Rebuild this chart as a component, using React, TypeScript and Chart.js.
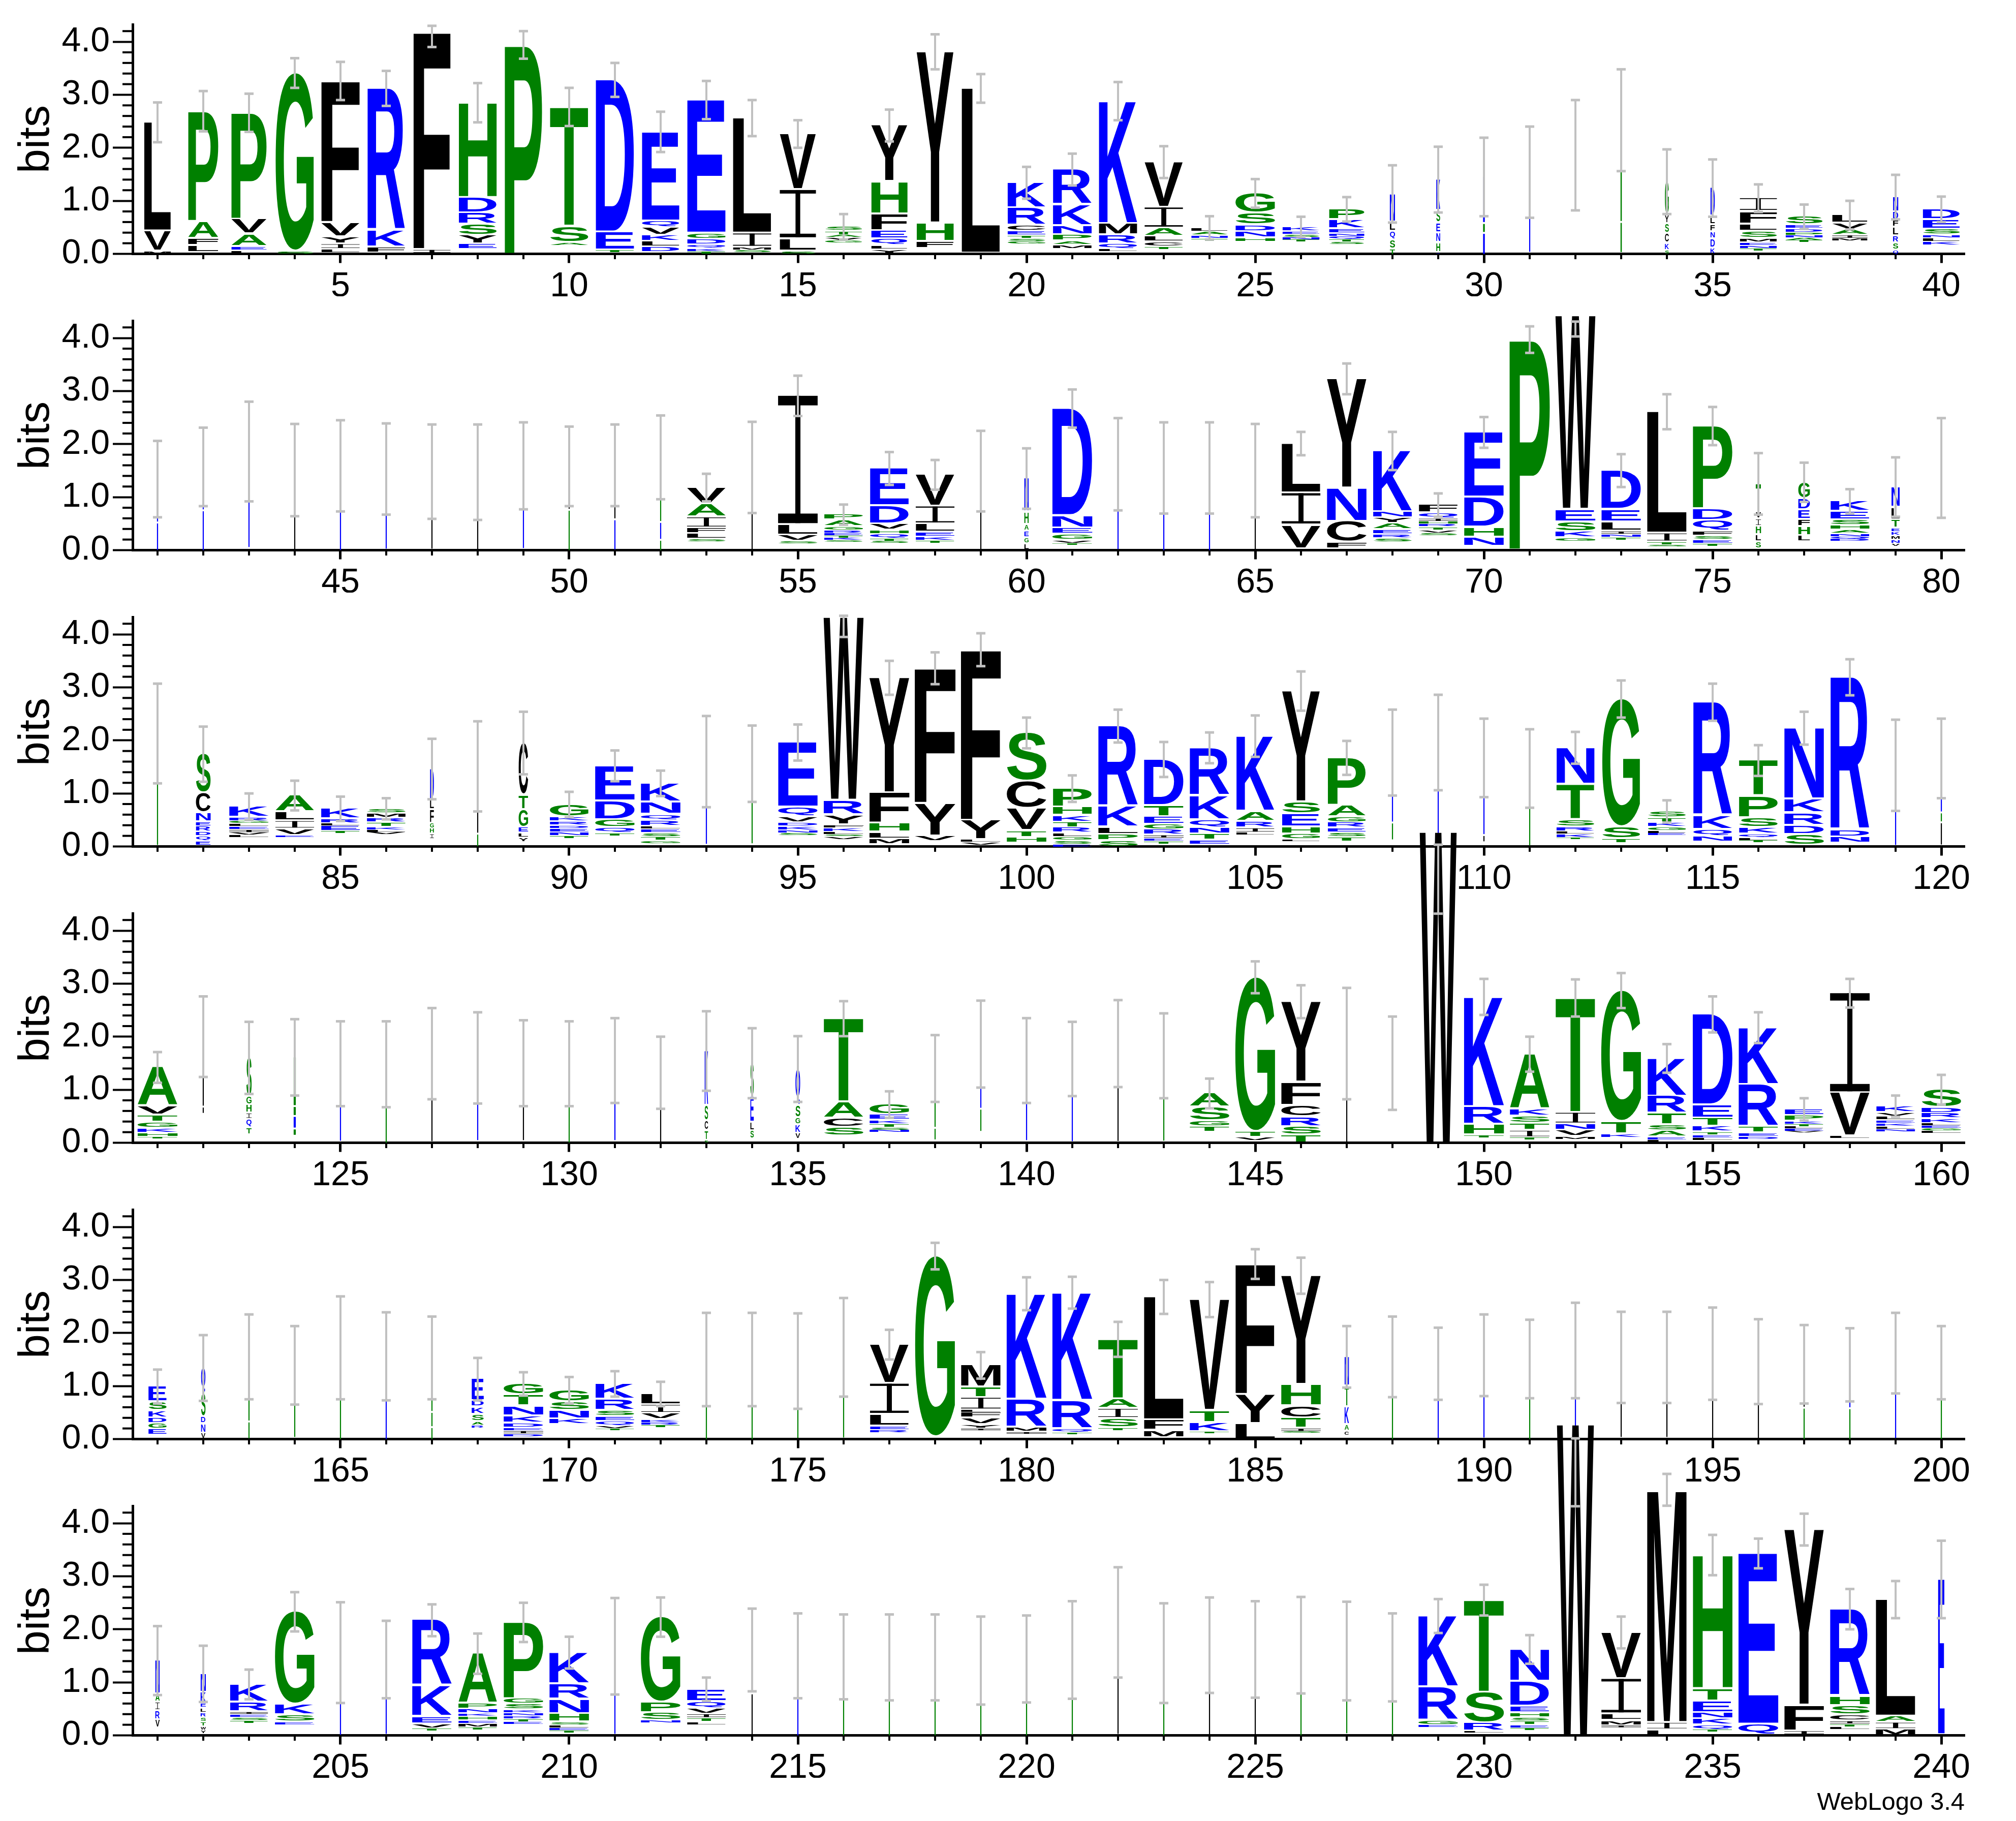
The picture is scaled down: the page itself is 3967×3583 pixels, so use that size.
import React, { useEffect, useRef } from "react";
import { Chart, registerables } from "chart.js";
Chart.register(...registerables);

// ---------------- data ----------------
// stack height (bits) per position 1..240
const TOPS: number[] = [
  2.48, 2.69, 2.66, 3.41, 3.26, 3.12, 4.19, 2.85, 3.94, 2.77,
  3.28, 2.3, 2.9, 2.56, 2.26, 0.51, 2.42, 3.81, 3.12, 1.34,
  1.59, 2.88, 1.73, 0.49, 1.14, 0.51, 0.84, 1.13, 1.4, 1.45,
  1.54, 1.86, 2.52, 1.36, 1.24, 1.05, 0.7, 0.73, 1.07, 0.84,
  1.34, 1.57, 1.86, 1.51, 1.59, 1.53, 1.48, 1.47, 1.59, 1.58,
  1.6, 1.75, 1.18, 1.56, 2.91, 0.67, 1.54, 1.42, 1.49, 1.35,
  2.67, 1.62, 1.55, 1.55, 1.5, 2.01, 3.23, 1.87, 0.85, 2.22,
  3.97, 4.42, 1.5, 2.61, 2.34, 1.25, 1.28, 0.92, 1.19, 1.55,
  2.13, 1.74, 0.75, 0.96, 0.71, 0.71, 1.46, 1.51, 1.95, 0.79,
  1.52, 1.19, 1.6, 1.56, 1.96, 4.32, 3.18, 3.36, 3.71, 2.14,
  1.09, 2.27, 1.64, 1.86, 2.08, 2.93, 1.67, 1.77, 1.96, 1.67,
  1.47, 1.86, 2.78, 0.66, 2.72, 1.62, 2.23, 3.19, 1.53, 1.66,
  1.42, 2.0, 1.6, 1.61, 1.49, 1.48, 1.68, 1.6, 1.5, 1.49,
  1.55, 1.32, 1.73, 1.5, 1.39, 2.34, 0.72, 1.4, 1.86, 1.55,
  1.58, 1.87, 1.64, 0.93, 3.12, 2.66, 1.87, 1.5, 5.86, 2.75,
  1.67, 2.73, 2.87, 1.59, 2.42, 2.17, 0.63, 2.82, 0.69, 1.0,
  0.99, 1.34, 1.55, 1.39, 1.72, 1.56, 1.53, 1.13, 1.04, 0.92,
  1.04, 0.85, 1.5, 1.5, 1.47, 1.73, 1.78, 3.45, 1.39, 2.74,
  2.76, 1.88, 2.68, 2.63, 3.3, 3.08, 1.55, 1.55, 1.42, 1.58,
  1.51, 1.67, 1.54, 1.54, 1.61, 1.46, 1.41, 1.4, 1.62, 1.44,
  1.41, 1.16, 0.96, 2.33, 1.56, 1.43, 2.17, 1.54, 2.13, 1.56,
  1.68, 2.23, 0.87, 1.61, 1.5, 1.48, 1.47, 1.47, 1.41, 1.44,
  1.61, 2.13, 1.55, 1.7, 1.62, 1.7, 1.59, 1.47, 2.25, 2.55,
  1.62, 5.86, 1.94, 4.63, 3.4, 3.43, 3.88, 2.38, 2.56, 2.94,
];

// error bar half-length (bits)
const ERRS: number[] = [
  0.375, 0.38, 0.36, 0.28, 0.36, 0.33, 0.2, 0.37, 0.26, 0.36,
  0.32, 0.38, 0.36, 0.34, 0.26, 0.24, 0.3, 0.33, 0.27, 0.3,
  0.3, 0.36, 0.3, 0.22, 0.27, 0.19, 0.23, 0.54, 0.62, 0.74,
  0.86, 1.04, 0.96, 0.61, 0.54, 0.26, 0.23, 0.27, 0.42, 0.24,
  0.72, 0.74, 0.94, 0.87, 0.86, 0.86, 0.89, 0.9, 0.82, 0.75,
  0.77, 0.79, 0.26, 0.86, 0.38, 0.19, 0.31, 0.28, 0.76, 0.57,
  0.36, 0.87, 0.86, 0.86, 0.88, 0.22, 0.29, 0.36, 0.22, 0.29,
  0.25, 0.14, 0.31, 0.33, 0.36, 0.58, 0.37, 0.23, 0.56, 0.94,
  0.94, 0.52, 0.25, 0.28, 0.23, 0.2, 0.57, 0.85, 0.59, 0.24,
  0.29, 0.24, 0.86, 0.72, 0.34, 0.2, 0.32, 0.3, 0.31, 0.29,
  0.25, 0.31, 0.33, 0.29, 0.39, 0.37, 0.32, 0.81, 0.9, 0.74,
  0.74, 0.3, 0.35, 0.21, 0.35, 0.29, 0.31, 0.34, 0.86, 0.75,
  0.29, 0.76, 0.68, 0.72, 0.8, 0.81, 0.86, 0.86, 0.81, 0.8,
  0.8, 0.68, 0.75, 0.66, 0.62, 0.33, 0.25, 0.63, 0.82, 0.8,
  0.7, 0.82, 0.8, 0.28, 0.3, 0.31, 1.05, 0.88, 0.65, 0.34,
  0.33, 0.35, 0.33, 0.27, 0.34, 0.29, 0.21, 0.27, 0.2, 0.28,
  0.32, 0.62, 0.8, 0.74, 0.97, 0.83, 0.78, 0.4, 0.22, 0.25,
  0.24, 0.23, 0.88, 0.88, 0.9, 0.93, 0.28, 0.25, 0.25, 0.31,
  0.3, 0.33, 0.32, 0.33, 0.28, 0.34, 0.58, 0.76, 0.68, 0.77,
  0.74, 0.9, 0.86, 0.86, 0.87, 0.8, 0.74, 0.69, 0.76, 0.69,
  0.65, 0.53, 0.28, 0.37, 0.95, 0.73, 0.3, 0.38, 0.37, 0.3,
  0.91, 0.37, 0.22, 0.78, 0.8, 0.8, 0.81, 0.81, 0.83, 0.82,
  0.92, 1.04, 0.94, 0.9, 0.91, 0.91, 0.93, 0.83, 0.32, 0.29,
  0.27, 0.64, 0.3, 0.3, 0.38, 0.28, 0.3, 0.38, 0.35, 0.73,
];

// error bar centre where it differs from the stack height
const ERR_MID: Record<number, number> = { 7: 4.1, 72: 4.17, 96: 4.15, 149: 4.97, 232: 4.96 };

// relative stack width (fraction of non-gap symbols); 0 = not visible
const WIDTHS: number[] = [
  0.62, 0.7, 0.82, 0.89, 0.89, 0.87, 0.86, 0.88, 0.87, 0.89,
  0.89, 0.87, 0.89, 0.89, 0.84, 0.86, 0.84, 0.86, 0.89, 0.88,
  0.9, 0.89, 0.89, 0.85, 0.92, 0.86, 0.82, 0.12, 0.09, 0.04,
  0.02, 0, 0.03, 0.09, 0.1, 0.86, 0.86, 0.82, 0.12, 0.86,
  0.015, 0.01, 0.012, 0.008, 0.008, 0.008, 0.006, 0.006, 0.008, 0.008,
  0.01, 0.012, 0.9, 0.008, 0.92, 0.9, 0.9, 0.9, 0.01, 0.1,
  0.93, 0.008, 0.006, 0.006, 0.006, 0.9, 0.92, 0.9, 0.9, 0.92,
  0.94, 0.93, 0.92, 0.92, 0.92, 0.12, 0.27, 0.9, 0.19, 0,
  0.008, 0.34, 0.92, 0.9, 0.9, 0.9, 0.09, 0.015, 0.22, 0.9,
  0.92, 0.92, 0.008, 0.008, 0.92, 0.93, 0.93, 0.95, 0.93, 0.92,
  0.9, 0.92, 0.92, 0.92, 0.88, 0.88, 0.88, 0.01, 0.008, 0.008,
  0.006, 0.88, 0.88, 0.88, 0.9, 0.9, 0.92, 0.9, 0.006, 0.01,
  0.93, 0.008, 0.12, 0.05, 0.006, 0.006, 0.004, 0.006, 0.004, 0.004,
  0.006, 0.005, 0.08, 0.08, 0.11, 0.92, 0.92, 0.008, 0.01, 0.006,
  0.01, 0.01, 0.006, 0.92, 0.93, 0.92, 0.004, 0, 0.86, 0.93,
  0.92, 0.92, 0.93, 0.9, 0.93, 0.92, 0.9, 0.92, 0.9, 0.92,
  0.42, 0.1, 0.01, 0.006, 0.006, 0.008, 0.015, 0.28, 0.92, 0.92,
  0.9, 0.9, 0.006, 0.004, 0.003, 0.006, 0.9, 0.93, 0.92, 0.93,
  0.93, 0.92, 0.92, 0.92, 0.92, 0.92, 0.1, 0.005, 0.006, 0.008,
  0.008, 0.004, 0.003, 0.003, 0.003, 0.003, 0.004, 0.005, 0.008, 0.006,
  0.1, 0.12, 0.88, 0.92, 0.006, 0.01, 0.92, 0.9, 0.92, 0.92,
  0.006, 0.92, 0.9, 0.004, 0.004, 0.004, 0.004, 0.004, 0.004, 0.004,
  0.004, 0.004, 0.004, 0.002, 0.003, 0.003, 0.003, 0.003, 0.92, 0.93,
  0.9, 0.86, 0.92, 0.92, 0.92, 0.93, 0.92, 0.92, 0.92, 0.15,
];

// letters of each stack, top to bottom, with their heights in bits
const LETTERS: string[] = [
  "L2.02 V.34 M.05", "P2.05 A.28 F.1 L.1", "P1.98 V.24 A.2 E.05 L.04", "G3.33 S.04", "F2.64 V.23 Y.1 I.07 L.05",
  "R2.65 K.28 F.07", "F4.08 I.05", "H1.76 D.25 R.18 S.17 Y.13 E.07", "P3.92", "T2.22 S.27 A.04",
  "D2.84 E.3 T.03", "E1.65 Q.09 V.11 K.08 L.07 D.07", "E2.48 G.08 D.07 Q.05 K.04 T.03", "L2.14 I.23 M.04 S.03", "V1.02 I.89 L.2 S.04 T.03",
  "S.06 T.05 A.03 V.04 G.03", "Y1.03 H.57 F.28 E.12 Q.09 L.05 Y.05", "Y3.2 H.31 F.1", "L3.08", "K.44 R.3 C.07 E.06 T.04 S.04 G.03",
  "R.63 K.36 N.14 P.08 A.05 M.05", "K2.28 M.18 R.13 Q.07 L.03", "V.82 I.36 A.12 L.07 C.06 T.04", "L.05 A.05 N.04 T.04", "G.34 S.19 D.09 N.08 H.05",
  "K.06 E.04 S.04 N.03 T.03", "P.16 K.14 E.06 N.04 Q.04 T.03 S.03", "N.5 L.14 Q.12 S.14 T.1 G.1", "K.55 S.2 E.15 N.15 H.15 Q.15", "N.85 G.15 R.45",
  "K1.5", "G1.8", "T1.9 S.55", "G.6 Y.12 S.15 C.15 K.1 S.2", "D.5 L.12 F.1 N.1 D.14 K.08 S.08",
  "I.22 F.2 L.1 S.1 M.05 E.04 N.04 T.03", "S.12 E.05 D.05 P.04 N.03 A.03 T.03", "L.12 V.09 A.07 I.04 M.03", "N.25 D.12 F.1 L.12 R.1 S.1 Q.08 L.06 V.06", "D.16 E.15 S.07 N.04 L.05 K.05",
  "D.8 K.5", "Q.8 K.75", "E1.8", "L1.5", "V.8 K.75",
  "K1.5", "L1.45", "I1.45", "K1.55", "L.8 S.75",
  "L1.0 N.55", "G1.2 D.3 S.22", "V.28 A.21 I.17 F.07 L.07 S.04", "L1.55", "I2.4 L.16 V.08 S.03",
  "P.07 A.09 G.05 R.04 E.03 T.03 K.03 S.02", "E.67 D.31 V.08 H.05 Q.06 T.03 S.03", "V.56 I.3 L.12 E.06 K.05 T.03", "K.5 L.95", "N.6 H.2 A.09 E.09 G.08 L.08",
  "D1.99 N.2 E.08 G.08 V.04 T.02", "K1.6", "Q1.55", "N1.55", "K.8 L.7",
  "L.9 I.57 V.41", "Y2.03 N.59 C.36 F.09", "K1.12 N.08 Y.07 A.08 E.06 R.05 S.05", "F.12 Q.07 I.04 H.03 R.04 T.04 V.04 S.03", "E1.19 D.53 H.15 N.14",
  "P3.94", "W3.62 E.2 S.15 K.08 G.05", "D.7 E.2 L.14 I.04 N.04 T.04", "L2.26 I.13 T.04 S.02", "P1.53 D.18 Q.17 F.06 S.05 E.05 T.04",
  "T.5 V.1 I.1 H.12 L.1 S.1", "G.28 D.17 E.15 F.1 H.13 L.08", "K.16 E.12 S.07 H.06 A.05 N.04 Q.03 D.03", "N.35 L.2 T.12 E.05 K.05 M.05 N.05 V.04", "G1.5",
  "G2.1", "S.7 C.34 N.13 E.06 R.07 D.06 Q.06 E.06", "K.17 R.05 G.03 L.04 E.04 I.04 V.03 L.03", "A.28 L.13 I.12 V.09 E.02", "K.16 R.06 L.03 E.07 T.03",
  "S.06 M.06 R.06 T.06 K.04 L.03 V.03", "D.55 L.15 F.22 G.07 H.07 I.07", "L1.25 S.22", "C.95 T.24 G.3 E.07 L.06 Y.06", "G.2 K.06 R.05 D.04 E.05 N.05 T.03",
  "E.63 D.32 G.11 Q.07 T.04", "K.32 N.2 Q.08 R.07 L.04 E.05 S.05 T.05 G.04", "K1.55", "S1.5", "E1.19 Q.15 V.07 D.05 K.05 N.04 S.03",
  "W3.42 R.24 Y.15 F.04 K.05 L.04 S.02 V.04", "Y2.14 F.54 H.13 L.09 M.07", "F2.52 Y.58 V.07", "F3.19 Y.33 L.03 V.04", "S.88 C.48 V.38 T.09 H.07",
  "P.32 H.12 K.09 T.07 R.07 L.05 G.05 S.05 E.05 T.04", "R1.48 K.36 L.1 P.08 S.09 T.04", "D.84 T.17 E.11 G.07 R.07 I.04 E.04 T.04", "R.87 K.42 Q.11 N.09 T.08 E.06", "K1.39 A.15 R.09 I.06 L.03",
  "Y2.06 S.19 E.21 H.1 G.07 L.02", "P.87 A.18 G.07 R.07 E.06 S.06 T.06", "N1.3 G.3", "K1.9", "L.1 N1.3 L.1",
  "G1.45", "N.66 T.63 S.1 R.06 L.03 K.05 T.02", "G2.38 S.19 T.06", "S.09 T.06 K.06 G.05 L.03 E.03", "R2.11 K.22 Q.1 N.07",
  "T.64 P.37 S.15 K.09 Q.05 L.03 T.03", "N1.31 K.22 R.2 D.14 S.16", "R2.85 D.1 N.08", "K1.5", "E1.0 G.15 L.4",
  "A.7 V.13 T.1 G.08 K.06 H.05 T.02", "Y1.3 L.1", "S.7 G.12 H.12 I.08 Q.12 T.1", "A.9 P.15 Q.2 T.1", "K1.45",
  "K.3 G1.15", "L1.65", "N1.55", "L1.45", "L.6 G.85",
  "K1.5", "I1.3", "K1.0 S.25 C.15 T.15 S.1", "S.6 E.45 L.12 S.12", "Q.65 S.2 G.1 K.12 V.08",
  "T1.54 A.27 C.14 S.12", "G.16 E.07 K.05 T.05 S.03 N.03", "S1.1 T.2", "K1.2 G.4", "K1.5",
  "N1.55", "K.8 L1.0", "S1.6", "A.23 S.22 G.08 T.07", "G2.88 T.07 V.05",
  "Y1.49 F.4 C.18 R.15 S.12 T.11", "L1.85", "L1.5", "W5.84", "K2.04 R.3 H.16 T.04",
  "A1.0 K.1 S.1 T.1 I.1 T.03", "T2.13 I.18 N.08 V.08 M.04", "G2.44 T.2 K.05", "K.68 R.29 T.18 S.08 A.08 E.04 L.03", "D1.68 E.21 T.12 K.07 T.04 E.04 L.03",
  "K1.04 R.76 T.08 E.05 D.04", "E.09 P.07 K.04 T.03 L.03 E.03 V.02", "I1.85 V.78 L.03", "K.09 V.05 L.05 E.04 K.04 L.04 N.03", "S.31 D.07 R.07 K.06 L.03 E.04 G.03 L.03",
  "E.26 S.13 K.1 D.07 G.07 E.09", "Q.45 S.4 D.1 N.14 V.08", "G1.2 S.3", "G1.35", "L.3 S1.4",
  "S.8 K.75", "S1.0 T.25 S.25", "E.38 D.08 K.1 S.1 A.05 R.04", "G.18 T.17 N.15 K.1 D.06 E.04 I.04 D.04", "G.19 S.13 N.12 K.07",
  "K.26 R.17 S.08 E.06 Q.06 V.04 T.02", "L.17 I.13 V.08 K.04 R.03 T.03", "G1.5", "S1.5", "T1.45",
  "S1.7", "V.7 I.55 L.18 E.05 R.04", "G3.38", "M.38 T.16 I.2 L.03 F.07 V.09 Y.05 I.03", "K1.96 R.49 M.06 I.03",
  "K2.0 R.5 Q.05 T.02", "T1.09 A.15 I.15 S.14 T.04", "L2.29 F.16 M.1", "V2.06 T.19 K.14 T.02", "F2.43 Y.51 L.28",
  "Y2.02 H.37 C.19 T.16 I.04 S.02", "N.52 T.36 K.3 A.08 C.06", "S1.55", "K1.4", "N1.55",
  "E.5 S1.0", "K1.65", "L1.5", "L1.5", "L1.6",
  "L1.45", "L.8 S.6", "K.8 G.6", "N1.6", "K.5 G.9",
  "N.6 A.12 I.12 R.14 V.12", "N.32 K.17 E.06 L.06 R.06 S.06 T.06 W.05 Y.05", "K.3 R.15 I.03 E.04 S.04 T.04", "G1.72 K.16 S.1 E.03", "K1.55",
  "R1.4", "R1.21 K.54 E.1 V.06 T.03", "A.91 P.07 N.06 K.04 H.05 E.04 M.05 T.03", "P1.41 G.07 S.07 K.04 N.04 R.04 T.04 E.03", "K.56 R.25 N.24 H.12 S.04 L.04 E.03 T.03",
  "K1.65", "G1.58 P.16 S.11 N.03", "E.2 Q.1 V.07 I.05 T.05 L.04", "E.8 L.8", "K1.5",
  "K.3 S1.15", "K.3 S1.15", "K.3 G1.15", "Q.5 G.9", "S1.44",
  "G1.6", "L2.1", "S1.55", "L1.7", "I1.6",
  "S1.7", "S1.55", "L.7 S.75", "K1.31 R.59 G.06 E.03", "T1.71 S.54 R.12 L.02",
  "N.57 D.43 E.09 H.06 S.05 T.05 E.04 T.03", "W5.84", "V.84 I.63 L.09 M.06 I.03", "M4.36 I.1 L.09", "H2.49 T.2 E.18 N.08 K.08 Q.06 T.03",
  "E3.19 Q.17", "Y3.28 F.45 I.05", "R1.61 H.14 S.14 C.08 I.04 T.04 L.03", "L2.17 A.08 I.1 M.08", "E2.9",
];

const Y_TICK_LABELS = ["0.0", "1.0", "2.0", "3.0", "4.0"];

// ---------------- layout / style ----------------
const PAGE_W = 3967;
const PAGE_H = 3583;
const ROW_PITCH = 583;
const OVER = 140;
const AREA_TOP = 48.5;
const AREA_BOTTOM = 499.5;
const AXIS_LEFT = 261;
const AXIS_RIGHT = 3866;
const Y_MAX = Math.log2(20);
const BASE_W = 0.94;
const MIN_LINE_PX = 2.2;
const FONT_FAMILY = "'Liberation Sans', Arial, Helvetica, sans-serif";
const GLYPH_FONT = "bold 200px 'Liberation Sans', Arial, sans-serif";
const ERR_COLOR = "#c0c0c0";

const COLOR: Record<string, string> = {};
for (const c of "RKDENQ") COLOR[c] = "#0000ff";
for (const c of "SGHTAP") COLOR[c] = "#008000";
for (const c of "YVMCLFIW") COLOR[c] = "#000000";

const metricCache: Record<string, { l: number; w: number; a: number; h: number }> = {};
let measureCtx: CanvasRenderingContext2D | null = null;
function glyphMetrics(ch: string) {
  if (metricCache[ch]) return metricCache[ch];
  if (!measureCtx) measureCtx = document.createElement("canvas").getContext("2d");
  const ctx = measureCtx!;
  ctx.font = GLYPH_FONT;
  const m = ctx.measureText(ch);
  const l = m.actualBoundingBoxLeft;
  const r = m.actualBoundingBoxRight;
  const a = m.actualBoundingBoxAscent;
  const d = m.actualBoundingBoxDescent;
  const res = { l, w: l + r, a, h: a + d };
  metricCache[ch] = res;
  return res;
}

function drawGlyph(ctx: CanvasRenderingContext2D, ch: string, x0: number, x1: number, yT: number, yB: number) {
  const w = x1 - x0;
  const h = yB - yT;
  if (w <= 0 || h <= 0) return;
  ctx.fillStyle = COLOR[ch] || "#000";
  if (w < 6) {
    // too narrow to show a glyph shape: a coloured sliver
    ctx.fillRect(x0, yT, w, h);
    return;
  }
  if (ch === "I") {
    const bar = Math.max(h * 0.075, Math.min(h, 0.8));
    const stem = Math.max(w * 0.13, Math.min(w, 0.8));
    ctx.fillRect(x0, yT, w, bar);
    ctx.fillRect(x0, yB - bar, w, bar);
    ctx.fillRect(x0 + w / 2 - stem / 2, yT, stem, h);
    return;
  }
  const m = glyphMetrics(ch);
  ctx.save();
  ctx.translate(x0, yT);
  ctx.scale(w / m.w, h / m.h);
  ctx.font = GLYPH_FONT;
  ctx.textAlign = "left";
  ctx.textBaseline = "alphabetic";
  ctx.fillText(ch, m.l, m.a);
  ctx.restore();
}

function parseStack(s: string): [string, number][] {
  return s.split(" ").filter(Boolean).map((t) => [t[0], parseFloat(t.slice(1))] as [string, number]);
}

const isInt = (v: number) => Math.abs(v - Math.round(v)) < 1e-6;

function logoPlugin(first: number) {
  return {
    id: "logo" + first,
    afterDatasetsDraw(chart: any) {
      const ctx: CanvasRenderingContext2D = chart.ctx;
      const xs = chart.scales.x;
      const ys = chart.scales.y;
      const unit = xs.getPixelForValue(first + 1) - xs.getPixelForValue(first);
      const gapPx = 3.8;
      for (let p = first; p < first + 40; p++) {
        const i = p - 1;
        if (WIDTHS[i] <= 0) continue;
        const cx = xs.getPixelForValue(p);
        const w = Math.max(WIDTHS[i] * BASE_W * unit, MIN_LINE_PX);
        const x0 = cx - w / 2;
        const x1 = cx + w / 2;
        let cur = ys.getPixelForValue(TOPS[i]);
        const base = ys.getPixelForValue(0);
        for (const [ch, hb] of parseStack(LETTERS[i])) {
          if (cur >= base) break;
          const hPx = ys.getPixelForValue(0) - ys.getPixelForValue(hb);
          const yB = Math.min(base, cur + hPx);
          drawGlyph(ctx, ch, x0, x1, cur, yB);
          cur = yB + Math.min(gapPx, hPx * 0.45);
        }
      }
      // error bars
      ctx.save();
      ctx.strokeStyle = ERR_COLOR;
      ctx.fillStyle = ERR_COLOR;
      ctx.lineWidth = 4;
      for (let p = first; p < first + 40; p++) {
        const i = p - 1;
        const mid = ERR_MID[p] !== undefined ? ERR_MID[p] : TOPS[i];
        const cx = xs.getPixelForValue(p);
        const yLo = ys.getPixelForValue(mid - ERRS[i]);
        const yHi = ys.getPixelForValue(mid + ERRS[i]);
        ctx.beginPath();
        ctx.moveTo(cx, yLo);
        ctx.lineTo(cx, yHi);
        ctx.stroke();
        ctx.fillRect(cx - 9, yLo - 2.5, 18, 5);
        ctx.fillRect(cx - 9, yHi - 2.5, 18, 5);
      }
      ctx.restore();
    },
    afterDraw(chart: any) {
      const ctx: CanvasRenderingContext2D = chart.ctx;
      const xs = chart.scales.x;
      const ys = chart.scales.y;
      const area = chart.chartArea;
      ctx.save();
      ctx.fillStyle = "#000";
      for (const t of ys.ticks) {
        if (isInt(t.value)) continue;
        const y = ys.getPixelForValue(t.value);
        ctx.fillRect(area.left - 20, y - 2, 20, 4);
      }
      for (const t of xs.ticks) {
        if (t.value % 5 === 0) continue;
        const x = xs.getPixelForValue(t.value);
        ctx.fillRect(x - 2, area.bottom + 2, 4, 8.5);
      }
      ctx.restore();
    },
  };
}

function RowChart({ row }: { row: number }) {
  const ref = useRef<HTMLCanvasElement>(null);
  useEffect(() => {
    const canvas = ref.current!;
    const first = row * 40 + 1;
    const positions = Array.from({ length: 40 }, (_, k) => first + k);
    const chart = new Chart(canvas, {
      type: "scatter",
      data: {
        datasets: [
          {
            data: positions.map((p) => ({ x: p, y: TOPS[p - 1] })),
            pointRadius: 0,
            pointHoverRadius: 0,
            showLine: false,
          },
        ],
      },
      options: {
        animation: false,
        responsive: false,
        devicePixelRatio: 1,
        events: [],
        layout: { padding: { top: OVER + AREA_TOP, right: PAGE_W - AXIS_RIGHT, bottom: 0, left: 0 } },
        plugins: { legend: { display: false }, tooltip: { enabled: false } },
        scales: {
          x: {
            type: "linear",
            min: first - 0.544,
            max: first + 39.51,
            offset: false,
            afterFit: (s: any) => {
              s.height = ROW_PITCH - AREA_BOTTOM;
            },
            border: { display: true, color: "#000", width: 5 },
            grid: {
              display: true,
              drawOnChartArea: false,
              drawTicks: true,
              offset: false,
              tickLength: 18,
              tickWidth: 5,
              tickColor: (c: any) => (c.tick && c.tick.value % 5 === 0 ? "#000" : "rgba(0,0,0,0)"),
            },
            ticks: {
              stepSize: 1,
              autoSkip: false,
              maxRotation: 0,
              minRotation: 0,
              includeBounds: false,
              padding: 6,
              color: "#000",
              font: { family: FONT_FAMILY, size: 68 },
              callback: (v: any) => (Number(v) % 5 === 0 ? String(v) : ""),
            },
          },
          y: {
            type: "linear",
            min: 0,
            max: Y_MAX,
            afterFit: (s: any) => {
              s.width = AXIS_LEFT;
            },
            border: { display: true, color: "#000", width: 5 },
            grid: {
              display: true,
              drawOnChartArea: false,
              drawTicks: true,
              tickLength: 39,
              tickWidth: 4,
              tickColor: (c: any) => (c.tick && isInt(c.tick.value) ? "#000" : "rgba(0,0,0,0)"),
            },
            ticks: {
              stepSize: 0.2,
              autoSkip: false,
              includeBounds: false,
              padding: 6,
              color: "#000",
              font: { family: FONT_FAMILY, size: 68 },
              callback: (v: any) => (isInt(Number(v)) ? Y_TICK_LABELS[Math.round(Number(v))] || "" : ""),
            },
            title: {
              display: true,
              text: "bits",
              color: "#000",
              font: { family: FONT_FAMILY, size: 86 },
              padding: { top: 21, bottom: 0 },
            },
          },
        },
      } as any,
      plugins: [logoPlugin(first)],
    });
    return () => chart.destroy();
  }, [row]);
  return (
    <canvas
      ref={ref}
      width={PAGE_W}
      height={ROW_PITCH + OVER}
      style={{
        position: "absolute",
        left: 0,
        top: row * ROW_PITCH - OVER,
        width: PAGE_W,
        height: ROW_PITCH + OVER,
      }}
    />
  );
}

export default function App() {
  useEffect(() => {
    document.body.style.margin = "0";
    document.body.style.overflow = "hidden";
    document.documentElement.style.overflow = "hidden";
  }, []);
  return (
    <div
      style={{
        position: "relative",
        width: PAGE_W,
        height: PAGE_H,
        overflow: "hidden",
        background: "#fff",
      }}
    >
      {[0, 1, 2, 3, 4, 5].map((r) => (
        <RowChart key={r} row={r} />
      ))}
      <div
        style={{
          position: "absolute",
          right: PAGE_W - AXIS_RIGHT,
          top: 3520,
          fontFamily: FONT_FAMILY,
          fontSize: 49,
          lineHeight: "49px",
          color: "#000",
          whiteSpace: "nowrap",
        }}
      >
        WebLogo 3.4
      </div>
    </div>
  );
}
